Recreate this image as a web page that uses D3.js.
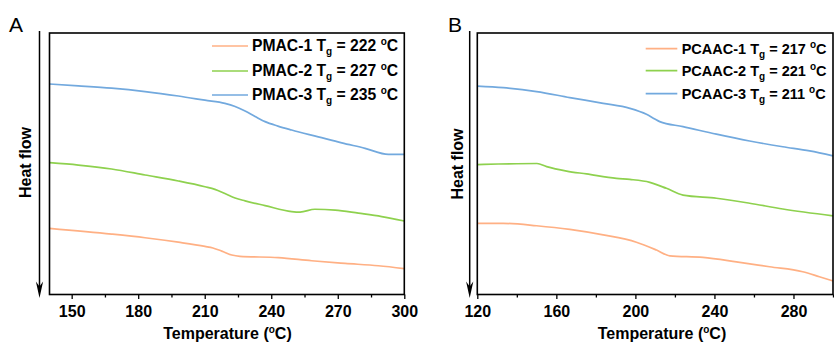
<!DOCTYPE html>
<html>
<head>
<meta charset="utf-8">
<script src="https://cdn.jsdelivr.net/npm/d3@7"></script>
<style>
body{margin:0;background:#fff}
svg{display:block}
</style>
</head>
<body>
<div id="chart"></div>
<script>
// DSC traces, [temperature (°C), heat flow (a.u.)]
const pmac1 = [[140,25.3],[168,23.1],[183.1,21.7],[198.1,20.0],[210.1,18.4],[213.7,17.8],[217.7,16.6],[222.2,15.1],[225.9,14.6],[243.2,14.1],[258.2,12.9],[273.3,11.9],[288.3,11.0],[300,9.9]];
const pmac2 = [[140,50.4],[153,49.5],[168,48.0],[183.1,45.7],[198.1,43.4],[210.1,41.2],[214.6,40.2],[219.1,38.6],[223.7,36.9],[228.2,35.8],[237.2,34.0],[249.2,31.7],[253,31.5],[259.7,32.6],[268.8,32.3],[279.3,31.1],[289.8,29.8],[300,28.1]];
const pmac3 = [[140,80.5],[153,79.8],[168,78.9],[183.1,77.6],[198.1,75.9],[210.1,74.3],[219.1,73.1],[223.7,71.9],[228.2,70.2],[232.7,68.1],[237.2,66.1],[243,64.4],[249.2,62.9],[261.2,60.3],[271.8,58.0],[282.3,55.9],[292.8,53.6],[300,53.6]];

const pcaac1 = [[120,27.2],[133.1,27.2],[150,26.3],[166.8,24.9],[183.7,22.8],[200.5,20.0],[210.7,17.0],[217.4,14.8],[234.2,14.2],[251.1,12.5],[267.9,10.6],[284.7,8.7],[293.1,6.8],[300,5.2]];
const pcaac2 = [[120,49.7],[130.6,49.9],[150.2,50.1],[155.1,48.9],[165.2,47.2],[175.3,46.1],[190.4,44.4],[197.2,44.0],[207.3,42.9],[215.7,40.6],[224.1,38.0],[241,36.8],[257.8,34.9],[274.6,32.7],[300,30.1]];
const pcaac3 = [[120,79.7],[133.1,79.1],[150,77.6],[166.8,75.3],[183.7,73.1],[197.2,71.2],[205.6,68.9],[209.8,67.1],[212.3,66.1],[224.1,64.2],[241,61.3],[257.8,58.7],[274.6,56.5],[288.2,54.9],[300,53.0]];

const namesA = ["PMAC-1","PMAC-2","PMAC-3"];
const tgA = [222,227,235];
const namesB = ["PCAAC-1","PCAAC-2","PCAAC-3"];
const tgB = [217,221,211];

const ticksA = [150,180,210,240,270,300];
const minorA = [165,195,225,255,285];
const ticksB = [120,160,200,240,280];
const minorB = [140,180,220,260,300];

const colors = ["#FFB084","#8ED14E","#72A9DE"];
const font = "Arial, 'Liberation Sans', sans-serif";

const width = 834, height = 343;
const plotTop = 33, plotBottom = 294.5;

const svg = d3.select("#chart").append("svg")
  .attr("width", width)
  .attr("height", height)
  .attr("font-family", font);

const drawPanel = (p) => {
  const x = d3.scaleLinear().domain(p.domain).range([p.left, p.right]);
  const y = d3.scaleLinear().domain([0,100]).range([plotBottom, plotTop]);
  const g = svg.append("g");

  const line = d3.line().curve(d3.curveMonotoneX).x(d=>x(d[0])).y(d=>y(d[1]));
  p.series.forEach((s,i)=>{
    g.append("path").datum(s)
      .attr("d", line)
      .attr("fill","none")
      .attr("stroke", colors[i])
      .attr("stroke-width", 1.7)
      .attr("stroke-linejoin","round");
  });

  // frame
  g.append("rect")
    .attr("x", p.left).attr("y", plotTop)
    .attr("width", p.right - p.left).attr("height", plotBottom - plotTop)
    .attr("fill","none").attr("stroke","#000").attr("stroke-width",1.6);

  const ax = g.append("g")
    .attr("transform", `translate(0,${plotBottom})`)
    .call(d3.axisBottom(x).tickValues(p.ticks).tickSize(4.5).tickPadding(7).tickFormat(d3.format("d")));
  ax.select(".domain").remove();
  ax.attr("font-family", font);
  ax.selectAll("line").attr("stroke-width",1.3);
  ax.selectAll("text").attr("font-size",16).attr("font-weight","bold").attr("fill","#000");

  const axm = g.append("g")
    .attr("transform", `translate(0,${plotBottom})`)
    .call(d3.axisBottom(x).tickValues(p.minor).tickSize(3).tickFormat(""));
  axm.select(".domain").remove();
  axm.selectAll("line").attr("stroke-width",1.3);

  // x title
  const t = g.append("text")
    .attr("x", p.titleX).attr("y", 339)
    .attr("text-anchor","middle")
    .attr("font-size",16).attr("font-weight","bold");
  t.append("tspan").text("Temperature (");
  t.append("tspan").attr("font-size",10).attr("dy",-6).text("o");
  t.append("tspan").attr("dy",6).text("C)");

  // y title
  g.append("text")
    .attr("transform", `translate(${p.ylabX},${p.ylabY}) rotate(-90)`)
    .attr("text-anchor","middle")
    .attr("font-size",16).attr("font-weight","bold")
    .text("Heat flow");

  // heat flow arrow
  g.append("line")
    .attr("x1", p.arrowX).attr("x2", p.arrowX)
    .attr("y1", 31).attr("y2", 290)
    .attr("stroke","#000").attr("stroke-width",1.5);
  g.append("path")
    .attr("d", `M${p.arrowX},298 L${p.arrowX-3.6},281.5 L${p.arrowX},286.5 L${p.arrowX+3.6},281.5 Z`)
    .attr("fill","#000");

  // panel letter
  g.append("text")
    .attr("x", p.letterX).attr("y", 32)
    .attr("font-size",21)
    .text(p.letter);

  // legend
  p.names.forEach((n,i)=>{
    const ly = p.legY[i];
    g.append("line")
      .attr("x1", p.legX1).attr("x2", p.legX2)
      .attr("y1", ly).attr("y2", ly)
      .attr("stroke", colors[i]).attr("stroke-width",1.7);
    const lt = g.append("text")
      .attr("x", p.legTextX).attr("y", ly + 5)
      .attr("font-size", p.legFont).attr("font-weight","bold");
    lt.append("tspan").text(n + " T");
    lt.append("tspan").attr("font-size",10).attr("dy",4).text("g");
    lt.append("tspan").attr("dy",-4).text(" = " + p.tg[i] + " ");
    lt.append("tspan").attr("font-size",10).attr("dy",-6).text("o");
    lt.append("tspan").attr("dy",6).text("C");
  });
};

drawPanel({
  domain:[140,300], left:49.5, right:404.3,
  series:[pmac1,pmac2,pmac3], names:namesA, tg:tgA,
  ticks:ticksA, minor:minorA,
  titleX:227.5, ylabX:31, ylabY:162.5, arrowX:39.5,
  letter:"A", letterX:9,
  legY:[46,71,95], legX1:212, legX2:248, legTextX:252, legFont:15.7
});

drawPanel({
  domain:[120,300], left:477.3, right:833,
  series:[pcaac1,pcaac2,pcaac3], names:namesB, tg:tgB,
  ticks:ticksB, minor:minorB,
  titleX:662, ylabX:462.5, ylabY:164, arrowX:469.7,
  letter:"B", letterX:448,
  legY:[48.7,70.7,93.7], legX1:645.7, legX2:677.3, legTextX:681.7, legFont:14.5
});
</script>
</body>
</html>
